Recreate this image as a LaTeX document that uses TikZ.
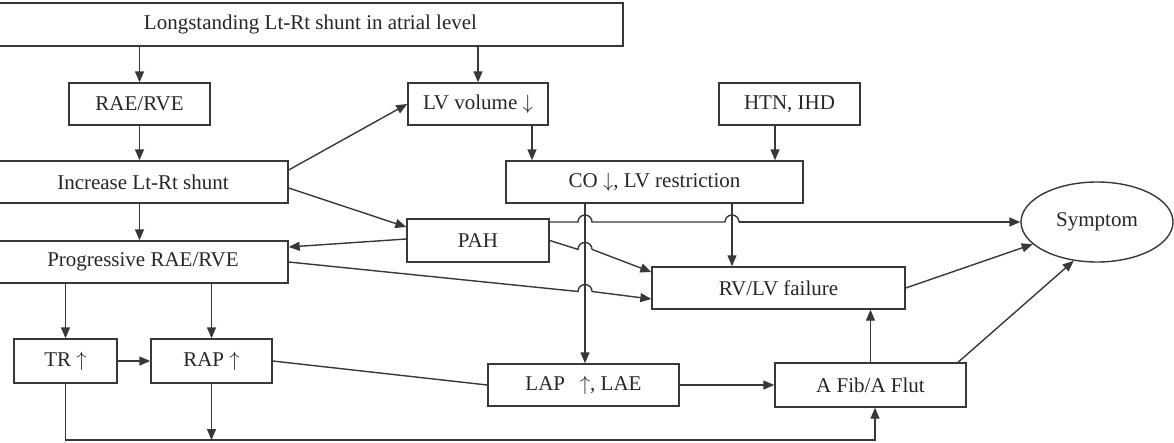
\documentclass[tikz,border=0pt]{standalone}
\usepackage{fontspec}
\setmainfont{Liberation Serif}
\usetikzlibrary{arrows.meta,shapes.geometric}
\newcommand{\dnar}{\ensuremath{\downarrow}}
\newcommand{\upar}{\ensuremath{\uparrow}}
\begin{document}
\begin{tikzpicture}[x=1pt,y=-1pt,
  box/.style={draw=black!78, line width=1.4pt, rectangle, inner sep=0pt, text=black!85,
    font=\fontsize{21}{24}\selectfont},
  oval/.style={draw=black!78, line width=1.4pt, ellipse, inner sep=0pt, text=black!85,
    font=\fontsize{21}{24}\selectfont},
  arr/.style={draw=black!78, line width=1.4pt, -{Triangle[length=11pt,width=9pt]}},
  ln/.style={draw=black!78, line width=1.4pt},
]
\useasboundingbox (0,0) rectangle (1174,442);

\node[box, minimum width=625pt, minimum height=43pt] (top) at (310.5,24.5) {Longstanding Lt-Rt shunt in atrial level};
\node[box, minimum width=141pt, minimum height=42pt] (rae) at (139.5,104) {RAE/RVE};
\node[box, minimum width=140pt, minimum height=42pt] (lv) at (478,104) {LV volume \dnar};
\node[box, minimum width=141pt, minimum height=42pt] (htn) at (789.5,104) {HTN, IHD};
\node[box, minimum width=290pt, minimum height=42pt] (inc) at (143,182) {Increase Lt-Rt shunt};
\node[box, minimum width=297pt, minimum height=42pt] (co) at (654.5,182) {CO \dnar, LV restriction};
\node[box, minimum width=142pt, minimum height=43pt] (pah) at (478,240.5) {PAH};
\node[box, minimum width=290pt, minimum height=42pt] (prog) at (143,262) {Progressive RAE/RVE};
\node[box, minimum width=253pt, minimum height=42pt] (rv) at (778.5,288) {RV/LV failure};
\node[box, minimum width=103pt, minimum height=44pt] (tr) at (65.5,361) {TR \upar};
\node[box, minimum width=121pt, minimum height=44pt] (rap) at (211.5,361) {RAP \upar};
\node[box, minimum width=191pt, minimum height=42pt] (lap) at (583.5,385) {LAP\hspace{0.7em}\upar, LAE};
\node[box, minimum width=191pt, minimum height=44pt] (af) at (870.5,385) {A Fib/A Flut};
\node[oval, minimum width=152pt, minimum height=80pt] (sym) at (1097,222) {Symptom};
\coordinate (bot) at (0,440);

% top level
\draw[arr] (rae.north |- top.south) -- (rae.north);
\draw[arr] (lv.north |- top.south) -- (lv.north);
\draw[arr] (rae.south) -- (rae.south |- inc.north);
\draw[arr] ([yshift=12pt]inc.east) -- (lv.west);
\draw[arr] ([yshift=-6pt]inc.east) -- ([yshift=13.5pt]pah.west);
\draw[arr] ([xshift=54pt]lv.south) -- ([xshift=54pt]lv.south |- co.north);
\draw[arr] ([xshift=-14.5pt]htn.south) -- ([xshift=-14.5pt]htn.south |- co.north);
\draw[arr] (inc.south -| rae.south) -- (prog.north -| rae.south);
\draw[arr] ([yshift=1.5pt]pah.west) -- ([yshift=15pt]prog.east);

% verticals from CO
\draw[arr] ([xshift=-69.5pt]co.south) -- ([xshift=-69.5pt]co.south |- lap.north);
\draw[arr] ([xshift=77.5pt]co.south) -- ([xshift=77.5pt]co.south |- rv.north);

% lines with jumps
\draw[ln] ([yshift=18.5pt]pah.east) -- (578,222) arc[start angle=180,end angle=0,radius=7pt]
  -- (725,222) arc[start angle=180,end angle=0,radius=7pt];
\draw[arr] (739,222) -- (sym.west);
\draw[ln] (pah.east) -- (578,249.4) arc[start angle=180,end angle=0,radius=7pt];
\draw[arr] (592,249.4) -- ([yshift=16pt]rv.west);
\draw[ln] (prog.east) -- (578,291.5) arc[start angle=180,end angle=0,radius=7pt];
\draw[arr] (592,291.5) -- ([yshift=-11pt]rv.west);

% right side
\draw[arr] (rv.east) -- (sym);
\draw[arr] ([xshift=87.5pt]af.north) -- (sym.239);
\draw[arr] (af.north) -- (af.north |- rv.south);
\draw[arr] (lap.east) -- (af.west);

% bottom left
\draw[arr] (tr.north |- prog.south) -- (tr.north);
\draw[arr] (rap.north |- prog.south) -- (rap.north);
\draw[arr] (tr.east) -- (rap.west);
\draw[ln] (rap.east) -- (lap.west);
\draw[arr] (rap.south) -- (rap.south |- bot);
\draw[arr] (tr.south) -- (tr.south |- bot) -- ([xshift=4.5pt]af.south |- bot) -- ([xshift=4.5pt]af.south);
\end{tikzpicture}
\end{document}
